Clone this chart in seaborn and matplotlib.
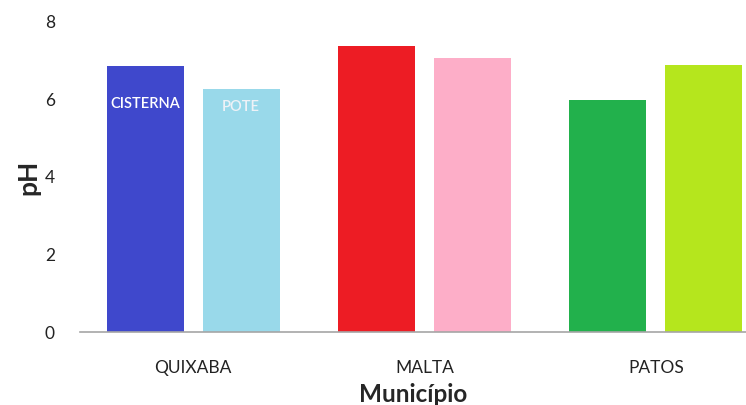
import matplotlib
matplotlib.use('Agg')
import matplotlib.pyplot as plt
import seaborn as sns
import pandas as pd

municipios = ['QUIXABA', 'MALTA', 'PATOS']
tipos = ['CISTERNA', 'POTE']
ph_cisterna = [6.85, 7.37, 5.99]
ph_pote = [6.26, 7.06, 6.88]
cores_cisterna = ['#3f48cc', '#ed1c24', '#22b14c']
cores_pote = ['#99d9ea', '#fdaec8', '#b5e61d']

df = pd.DataFrame({
    'Município': municipios * 2,
    'pH': ph_cisterna + ph_pote,
    'tipo': [tipos[0]] * 3 + [tipos[1]] * 3,
})

sns.set_style('white')
plt.rcParams['font.family'] = ['Lato', 'DejaVu Sans']

fig = plt.figure(figsize=(7.46, 4.05), dpi=100)
ax = fig.add_axes([0.107, 0.180, 0.893, 0.766])

sns.barplot(data=df, x='Município', y='pH', hue='tipo', order=municipios,
            hue_order=tipos, width=0.83, gap=0.2, legend=False, ax=ax,
            saturation=1)

for cont, cores in zip(ax.containers, [cores_cisterna, cores_pote]):
    for patch, c in zip(cont, cores):
        patch.set_facecolor(c)
        patch.set_edgecolor('none')

# rotulos dentro das barras do primeiro municipio
p1 = ax.containers[0][0]
p2 = ax.containers[1][0]
ax.text(p1.get_x() + p1.get_width() / 2, 5.88, tipos[0], color='white',
        ha='center', va='center', fontsize=10.5, fontweight='semibold')
ax.text(p2.get_x() + p2.get_width() / 2, 5.8, tipos[1], color='#eef2f7',
        ha='center', va='center', fontsize=10.5, fontweight='semibold')

ax.set_ylim(0, 8)
ax.set_yticks([0, 2, 4, 6, 8])
ax.set_xlim(-0.49, 2.39)
ax.tick_params(axis='both', length=0, labelsize=12.5, colors='#222222')
ax.tick_params(axis='x', pad=20)
ax.tick_params(axis='y', pad=18)
ax.set_xlabel('Município', fontsize=17.5, fontweight='bold', labelpad=5)
ax.set_ylabel('pH', fontsize=19, fontweight='bold', labelpad=3)

for s in ['top', 'right', 'left']:
    ax.spines[s].set_visible(False)
ax.spines['bottom'].set_color('#a6a6a6')
ax.spines['bottom'].set_linewidth(1.2)

fig.savefig('out.png', dpi=100)
